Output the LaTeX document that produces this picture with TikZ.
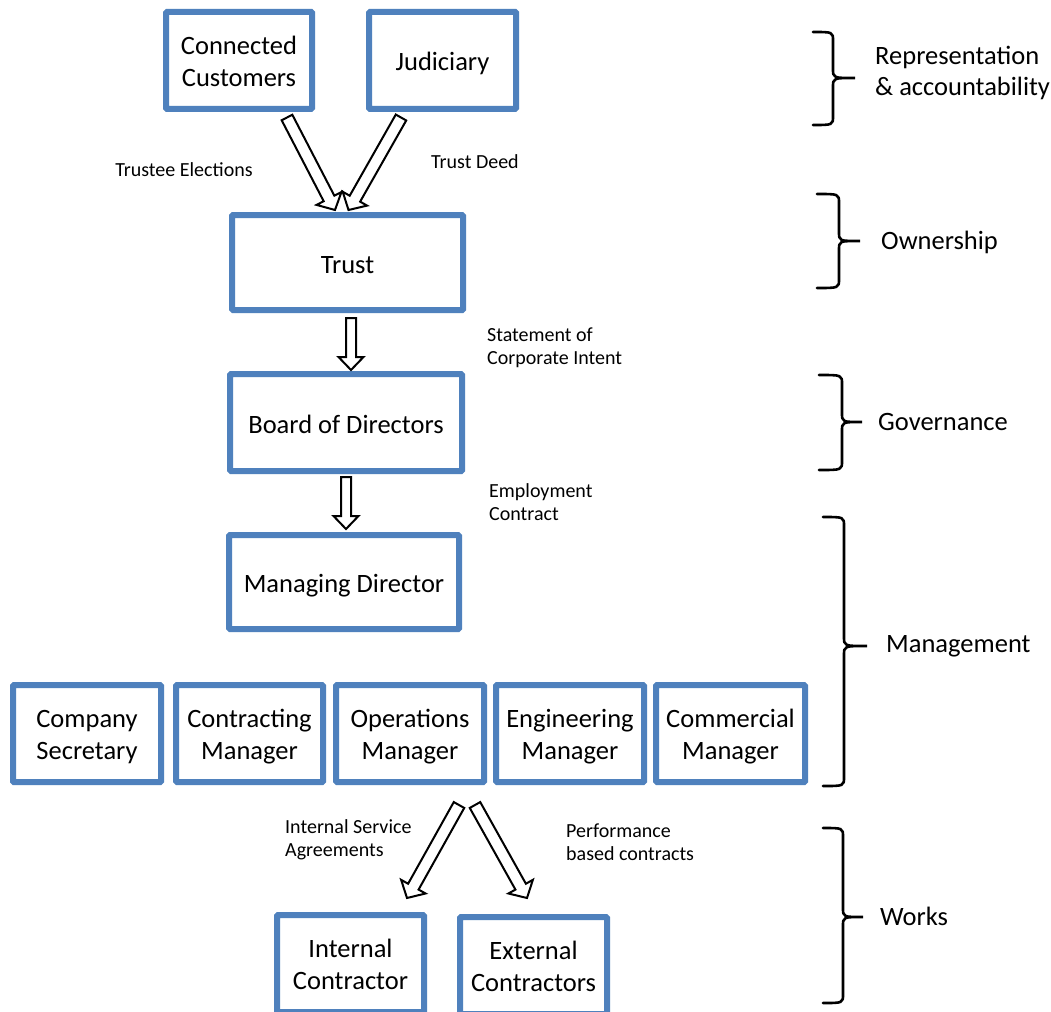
\documentclass[tikz,border=0pt]{standalone}
\usepackage{fontspec}
\setmainfont{Carlito}
\usetikzlibrary{calc}
\definecolor{boxblue}{RGB}{79,129,189}

% two lines set one above the other
\newcommand{\boxlines}[2]{\begin{tabular}{@{}c@{}}\rule{0pt}{29.5pt}#1\\#2\end{tabular}}

% hollow block arrow: from, to, half shaft, half head
\newcommand{\blockarrow}[4]{%
  \coordinate (bah) at ($(#2)!13pt!(#1)$);
  \draw[blockarr] ($(#1)!#3!-90:(#2)$) -- ($(bah)!#3!90:(#1)$) -- ($(bah)!#4!90:(#1)$)
    -- (#2) -- ($(bah)!#4!-90:(#1)$) -- ($(bah)!#3!-90:(#1)$) -- ($(#1)!#3!90:(#2)$) -- cycle;}

% right brace: x left, x bar, x tip, y top, y bottom, y middle
\newcommand{\sidebrace}[6]{%
  \draw[bracket] (#1,#4) .. controls (#2,#4) .. (#2,#4+9) -- (#2,#6-9)
    .. controls (#2,#6) .. (#3,#6) .. controls (#2,#6) .. (#2,#6+9)
    -- (#2,#5-9) .. controls (#2,#5) .. (#1,#5);}

\begin{document}
\begin{tikzpicture}[x=1pt,y=-1pt,
  unit/.style={draw=boxblue,line width=6pt,fill=white,align=center,inner sep=0pt,
    font=\fontsize{26.5}{32}\selectfont,rounded corners=1pt,
    execute at begin node={\rule{0pt}{28pt}},
    execute at end node={\rule[-7pt]{0pt}{7pt}}},
  note/.style={inner sep=0pt,align=left,font=\fontsize{20}{23}\selectfont},
  level/.style={inner sep=0pt,align=left,anchor=west,font=\fontsize{26.5}{31}\selectfont},
  blockarr/.style={draw=black,line width=2pt,fill=white,line join=miter},
  bracket/.style={line width=2.6pt,line cap=round}]
	\clip (0,0) rectangle (1051,1011);
	\fill[white] (0,0) rectangle (1051,1011);
	\node[unit,minimum width=146,minimum height=97] (cc) at (239,60.5) {\boxlines{Connected}{Customers}};
	\node[unit,minimum width=147,minimum height=97] (jud) at (442.5,60.5) {Judiciary};
	\node[unit,minimum width=231,minimum height=95] (trust) at (347.5,262.5) {Trust};
	\node[unit,minimum width=232,minimum height=97] (board) at (346,422.5) {Board of Directors};
	\node[unit,minimum width=230,minimum height=94] (md) at (344,582) {Managing Director};
	\node[unit,minimum width=148,minimum height=97] (cs) at (87,733.5) {\boxlines{Company}{Secretary}};
	\node[unit,minimum width=147,minimum height=97] (ctm) at (249.5,733.5) {\boxlines{Contracting}{Manager}};
	\node[unit,minimum width=148,minimum height=97] (ops) at (410,733.5) {\boxlines{Operations}{Manager}};
	\node[unit,minimum width=148,minimum height=97] (eng) at (570,733.5) {\boxlines{Engineering}{Manager}};
	\node[unit,minimum width=149,minimum height=97] (com) at (730.5,733.5) {\boxlines{Commercial}{Manager}};
	\node[unit,minimum width=147,minimum height=97] (intc) at (350.5,963.5) {\boxlines{Internal}{Contractor}};
	\node[unit,minimum width=147,minimum height=97] (extc) at (533.5,965.5) {\boxlines{External}{Contractors}};

	\coordinate (ccout) at (287,117.5);
	\coordinate (trustin1) at (335,210);
	\coordinate (judout) at (401,117.5);
	\coordinate (trustin2) at (348.5,210);
	\coordinate (trustout) at (351,318);
	\coordinate (boardin) at (351,370);
	\coordinate (boardout) at (346,477);
	\coordinate (mdin) at (346,529);
	\coordinate (opsout1) at (459,805);
	\coordinate (intin) at (407,898);
	\coordinate (opsout2) at (475,805);
	\coordinate (extin) at (527,898);
	\blockarrow{ccout}{trustin1}{6pt}{14pt}
	\blockarrow{judout}{trustin2}{6pt}{14pt}
	\blockarrow{trustout}{boardin}{5pt}{12.5pt}
	\blockarrow{boardout}{mdin}{5pt}{12.5pt}
	\blockarrow{opsout1}{intin}{6pt}{14pt}
	\blockarrow{opsout2}{extin}{6pt}{14pt}

	\node[note] (elect) at (184,170) {Trustee Elections};
	\node[note] (deed) at (475,162) {Trust Deed};
	\node[note,anchor=west] (intent) at (487,348) {Statement of\\Corporate Intent};
	\node[note,anchor=west] (employ) at (489,502.5) {Employment\\Contract};
	\node[note,anchor=west] (isa) at (285,839.5) {Internal Service\\Agreements};
	\node[note,anchor=west] (perf) at (566,842.5) {Performance\\based contracts};

	\sidebrace{813}{833}{855}{32}{125}{78}
	\sidebrace{817}{839}{860}{194}{288}{241}
	\sidebrace{819}{842}{862}{375}{470}{422}
	\sidebrace{823}{844}{867}{517}{786}{646}
	\sidebrace{823}{843}{863}{828}{1003}{917}
	\node[level] (repr) at (875,72.5) {Representation\\\& accountability};
	\node[level] (own) at (881,242) {Ownership};
	\node[level] (gov) at (878,422) {Governance};
	\node[level] (mgmt) at (886,646) {Management};
	\node[level] (works) at (880,916) {Works};
  \end{tikzpicture}
\end{document}
